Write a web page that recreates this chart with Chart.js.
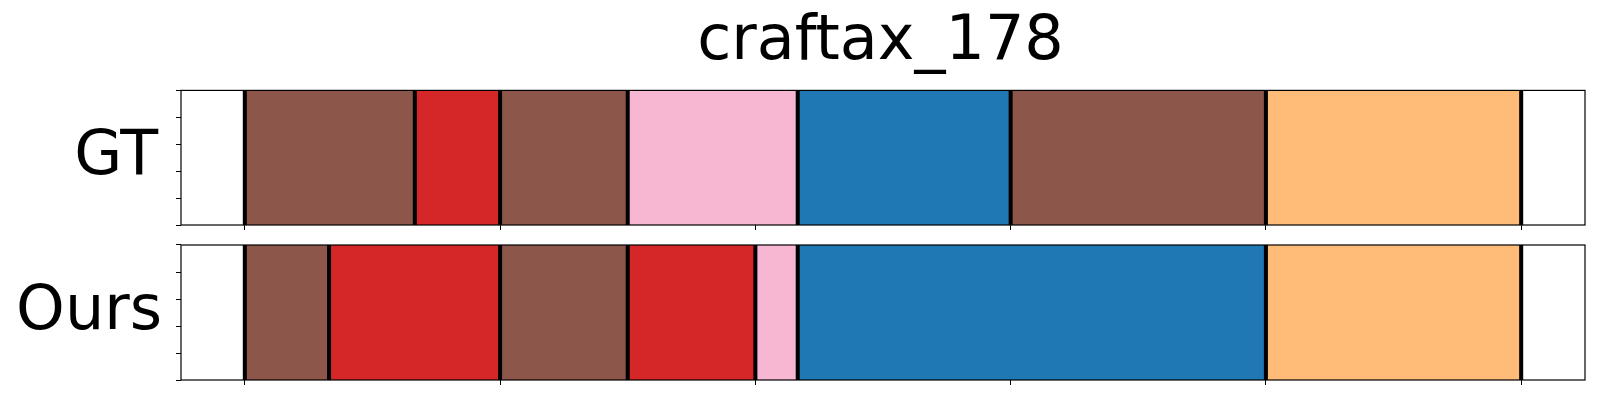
<!DOCTYPE html>
<html>
<head>
<meta charset="utf-8">
<script src="https://cdn.jsdelivr.net/npm/chart.js@4"></script>
<style>
    body { margin: 0; background: #fff; }
    #wrap { position: relative; width: 1600px; height: 400px; }
    canvas { position: absolute; left: 0; }
</style>
</head>
<body>
<div id="wrap">
    <canvas id="gtChart" width="1600" height="240" style="top:0"></canvas>
    <canvas id="oursChart" width="1600" height="160" style="top:240px"></canvas>
</div>
<script>
const chartTitle = 'craftax_178';
const xTicks = [0, 50, 100, 150, 200, 250];
const yTicks = [0, 0.25, 0.5, 0.75, 1];

// segment boundaries (frame index) and the class of each segment
const gtBounds = [0, 33.3, 50, 75, 108.3, 150, 200, 250];
const gtClasses = ['brown', 'red', 'brown', 'pink', 'blue', 'brown', 'orange'];
const oursBounds = [0, 16.5, 50, 75, 100, 108.3, 200, 250];
const oursClasses = ['brown', 'red', 'brown', 'red', 'pink', 'blue', 'orange'];

const palette = {
    brown: '#8c564b',
    red: '#d62728',
    pink: '#f7b6d2',
    blue: '#1f77b4',
    orange: '#ffbb78'
};

const FONT = "'DejaVu Sans', sans-serif";
const xMin = -12.5, xMax = 262.5;
const boundaryHalf = 0.33;

// draws the box around the plot area
const framePlugin = {
    id: 'frame',
    afterDraw(chart) {
        const { ctx, chartArea: a } = chart;
        ctx.save();
        ctx.strokeStyle = '#000';
        ctx.lineWidth = 1.2;
        ctx.strokeRect(a.left, a.top, a.right - a.left, a.bottom - a.top);
        ctx.restore();
    }
};

// horizontal row label left of the plot ("GT", "Ours")
const rowLabelPlugin = {
    id: 'rowLabel',
    afterDraw(chart, args, opts) {
        const { ctx, chartArea: a } = chart;
        ctx.save();
        ctx.font = `62px ${FONT}`;
        ctx.fillStyle = '#000';
        ctx.textAlign = 'right';
        ctx.textBaseline = 'alphabetic';
        ctx.fillText(opts.text, a.left - 23 + (opts.dx || 0), (a.top + a.bottom) / 2 + 16.5);
        ctx.restore();
    }
};

function makeRow(canvasId, label, bounds, classes, padding, showTitle, labelDx) {
    const segments = classes.map((c, i) => ({ x: [bounds[i], bounds[i + 1]], y: label }));
    const lines = bounds.map(b => ({ x: [b - boundaryHalf, b + boundaryHalf], y: label }));

    return new Chart(document.getElementById(canvasId), {
        type: 'bar',
        data: {
            labels: [label],
            datasets: [
                {
                    data: lines,
                    backgroundColor: '#000',
                    borderWidth: 0,
                    stack: 'row',
                    order: 0,
                    categoryPercentage: 1,
                    barPercentage: 1
                },
                {
                    data: segments,
                    backgroundColor: classes.map(c => palette[c]),
                    borderWidth: 0,
                    stack: 'row',
                    order: 1,
                    categoryPercentage: 1,
                    barPercentage: 1
                }
            ]
        },
        options: {
            indexAxis: 'y',
            responsive: false,
            animation: false,
            layout: { padding },
            plugins: {
                legend: { display: false },
                tooltip: { enabled: false },
                title: {
                    display: showTitle,
                    text: chartTitle,
                    color: '#000',
                    font: { family: FONT, size: 62, weight: 'normal', lineHeight: 1.2 },
                    padding: { top: 6, bottom: 10 }
                },
                rowLabel: { text: label, dx: labelDx }
            },
            scales: {
                x: {
                    type: 'linear',
                    stacked: false,
                    min: xMin,
                    max: xMax,
                    afterBuildTicks: s => { s.ticks = xTicks.map(v => ({ value: v })); },
                    ticks: { display: false },
                    grid: { drawOnChartArea: false, drawTicks: true, tickLength: 5, color: '#000', lineWidth: 1 },
                    border: { display: false }
                },
                y: {
                    type: 'category',
                    display: false,
                    stacked: true
                },
                yt: {
                    type: 'linear',
                    position: 'left',
                    min: 0,
                    max: 1,
                    afterBuildTicks: s => { s.ticks = yTicks.map(v => ({ value: v })); },
                    ticks: { display: false },
                    grid: { drawOnChartArea: false, drawTicks: true, tickLength: 5, color: '#000', lineWidth: 1 },
                    border: { display: false }
                }
            }
        },
        plugins: [framePlugin, rowLabelPlugin]
    });
}

makeRow('gtChart', 'GT', gtBounds, gtClasses, { top: 0, left: 176, right: 15, bottom: 10 }, true, 0);
makeRow('oursChart', 'Ours', oursBounds, oursClasses, { top: 5, left: 176, right: 15, bottom: 15 }, false, 4);
</script>
</body>
</html>
